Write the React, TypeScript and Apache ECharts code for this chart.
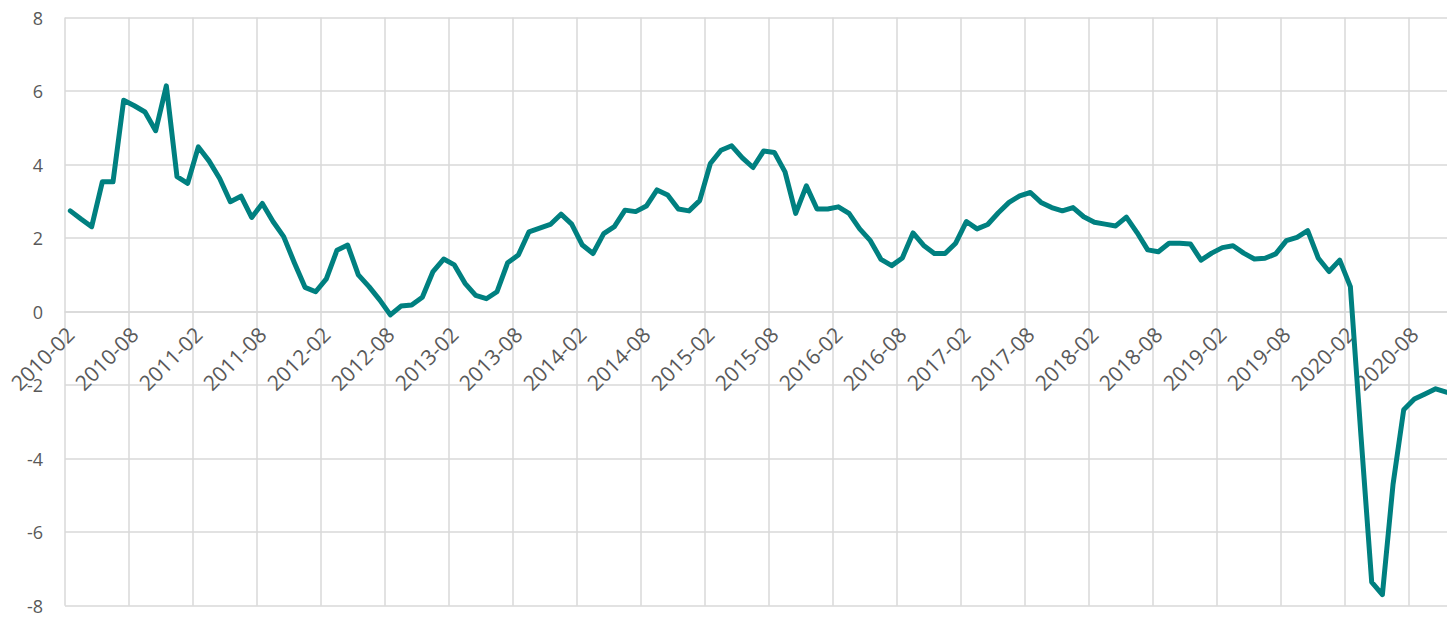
import React, { useEffect, useRef } from "react";
import * as echarts from "echarts";

// Monthly categories 2010-02 .. 2020-11
const startYear = 2010;
const startMonth = 2;
const monthCount = 130;
const categories: string[] = [];
for (let i = 0; i < monthCount; i++) {
  const m0 = startMonth - 1 + i;
  const y = startYear + Math.floor(m0 / 12);
  const m = (m0 % 12) + 1;
  categories.push(`${y}-${m < 10 ? "0" + m : m}`);
}

const values2010_2012: number[] = [
  2.74, 2.52, 2.31, 3.53, 3.53, 5.75, 5.6, 5.43, 4.92, 6.14, 3.67,
  3.49, 4.48, 4.1, 3.62, 2.99, 3.14, 2.56, 2.94, 2.45, 2.04, 1.33, 0.66,
  0.54, 0.89, 1.67, 1.81, 1.0, 0.68, 0.32, -0.09, 0.15, 0.18, 0.39, 1.09,
];
const values2013_2015: number[] = [
  1.43, 1.27, 0.77, 0.44, 0.35, 0.54, 1.33, 1.54, 2.17, 2.27, 2.37, 2.65,
  2.38, 1.81, 1.58, 2.12, 2.31, 2.76, 2.72, 2.87, 3.31, 3.17, 2.79, 2.74,
  3.02, 4.03, 4.39, 4.51, 4.18, 3.92, 4.37, 4.33, 3.8, 2.67, 3.42, 2.79,
];
const values2016_2018: number[] = [
  2.79, 2.85, 2.67, 2.25, 1.93, 1.42, 1.25, 1.46, 2.14, 1.8, 1.58, 1.58,
  1.86, 2.45, 2.25, 2.37, 2.69, 2.97, 3.15, 3.24, 2.97, 2.83, 2.74, 2.83,
  2.58, 2.43, 2.38, 2.33, 2.57, 2.15, 1.68, 1.63, 1.86, 1.86, 1.84, 1.4,
];
const values2019_2020: number[] = [
  1.59, 1.74, 1.79, 1.59, 1.43, 1.45, 1.57, 1.93, 2.02, 2.2, 1.45, 1.09,
  1.4, 0.68, -3.4, -7.36, -7.7, -4.7, -2.67, -2.38, -2.24, -2.1, -2.19,
];
const seriesValues = [
  ...values2010_2012,
  ...values2013_2015,
  ...values2016_2018,
  ...values2019_2020,
];

const yTicks = { min: -8, max: 8, interval: 2 };

export default function App() {
  const ref = useRef<HTMLDivElement>(null);
  useEffect(() => {
    if (!ref.current) return;
    const chart = echarts.init(ref.current, undefined, { renderer: "svg" });
    const font = "'Open Sans', 'Noto Sans', sans-serif";
    const top = 17.5;
    const bottom = 11.3;
    const plotH = 617 - top - bottom;
    const zeroOffset = -plotH / 2;
    chart.setOption({
      animation: false,
      backgroundColor: "#ffffff",
      grid: {
        left: 65,
        right: -4.7,
        top,
        bottom,
        containLabel: false,
        outerBoundsMode: "none",
      },
      xAxis: {
        type: "category",
        data: categories,
        boundaryGap: true,
        position: "bottom",
        offset: zeroOffset,
        axisLine: { show: true, onZero: false, lineStyle: { color: "#d9d9d9", width: 1.5 } },
        axisTick: { show: false, interval: 5 },
        axisLabel: {
          interval: 5,
          rotate: 45,
          margin: 19,
          color: "#595959",
          fontSize: 21,
          fontFamily: font,
        },
        splitLine: { show: true, interval: 5, lineStyle: { color: "#d9d9d9", width: 1.5 } },
      },
      yAxis: {
        type: "value",
        min: yTicks.min,
        max: yTicks.max,
        interval: yTicks.interval,
        axisLine: { show: false },
        axisTick: { show: false },
        axisLabel: {
          margin: 22,
          color: "#595959",
          fontSize: 18,
          lineHeight: 16,
          fontFamily: font,
        },
        splitLine: { show: true, lineStyle: { color: "#d9d9d9", width: 1.5 } },
      },
      series: [
        {
          type: "line",
          data: seriesValues,
          symbol: "none",
          lineStyle: { color: "#008080", width: 5, cap: "round", join: "round" },
        },
      ],
    });
    return () => chart.dispose();
  }, []);
  return (
    <div
      ref={ref}
      style={{ position: "absolute", left: 0, top: 0, width: 1447, height: 617 }}
    />
  );
}
